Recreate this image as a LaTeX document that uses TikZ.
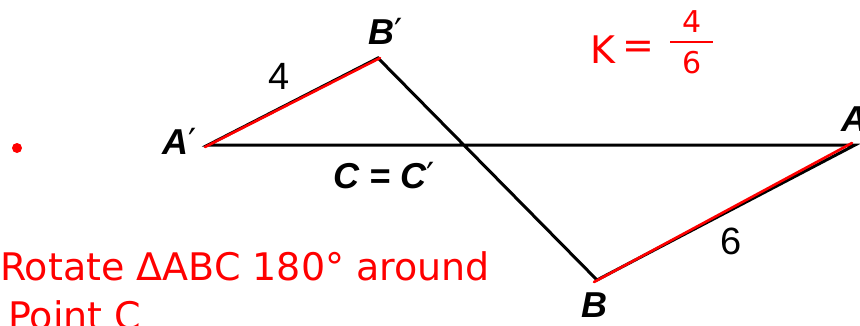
\documentclass[tikz,border=0pt]{standalone}
\usepackage{fontspec}
\setmainfont{Liberation Sans}
\newfontfamily\handfont{DejaVu Sans}
\definecolor{ink}{RGB}{255,0,0}
\newcommand{\pr}{{\fontspec{DejaVu Sans}\mdseries\upshape\char"2032}}
\begin{document}
\begin{tikzpicture}[x=1pt,y=-1pt,
  lbl/.style={font=\fontsize{36}{40}\selectfont\bfseries\itshape, inner sep=0pt},
  num/.style={font=\fontsize{38}{42}\selectfont, inner sep=0pt},
  hand/.style={font=\handfont\fontsize{38}{42}\selectfont, text=ink, inner sep=0pt},
  seg/.style={line width=3pt, black, line cap=round},
  redseg/.style={line width=2.6pt, ink, line cap=round}]
\useasboundingbox (0,0) rectangle (860,325);
\fill[white] (0,0) rectangle (860,325);
% vertices
\coordinate (Ap) at (208,145);
\coordinate (Bp) at (378,58);
\coordinate (A) at (855,145);
\coordinate (B) at (597,280);
\coordinate (ApR) at (205,147);
\coordinate (BpR) at (380,58);
\coordinate (AR) at (852,143);
\coordinate (BR) at (594,282);
% black triangles
\draw[seg] (Ap) -- (Bp) -- (B) -- (A) -- cycle;
% red highlights
\draw[redseg] (ApR) -- (BpR);
\draw[redseg] (BR) -- (AR);
% red dot
\fill[ink] (17,148) circle [radius=5pt];
% labels
\node[lbl] (lBp) at (386,31) {B\pr};
\node[lbl] (lAp) at (180,141) {A\pr};
\node[lbl] (lC) at (384,176) {C = C\pr};
\node[lbl] (lA) at (854,119) {A};
\node[lbl] (lB) at (594,305) {B};
\node[num] (n4) at (279,76) {4};
\node[num] (n6) at (731,241) {6};
% scale factor
\node[hand] (k) at (603,50) {K};
\node[hand] (eq) at (638,50) {=};
\node[hand, font=\handfont\fontsize{30}{34}\selectfont] (k4) at (692,22) {4};
\draw[ink, line width=2pt] (670,42) -- (713,42);
\node[hand, font=\handfont\fontsize{30}{34}\selectfont] (k6) at (692,63) {6};
% note
\node[hand, anchor=base west] (note1) at (0,280) {Rotate ΔABC 180° around};
\node[hand, anchor=base west] (note2) at (8,329) {Point C};
\end{tikzpicture}
\end{document}
